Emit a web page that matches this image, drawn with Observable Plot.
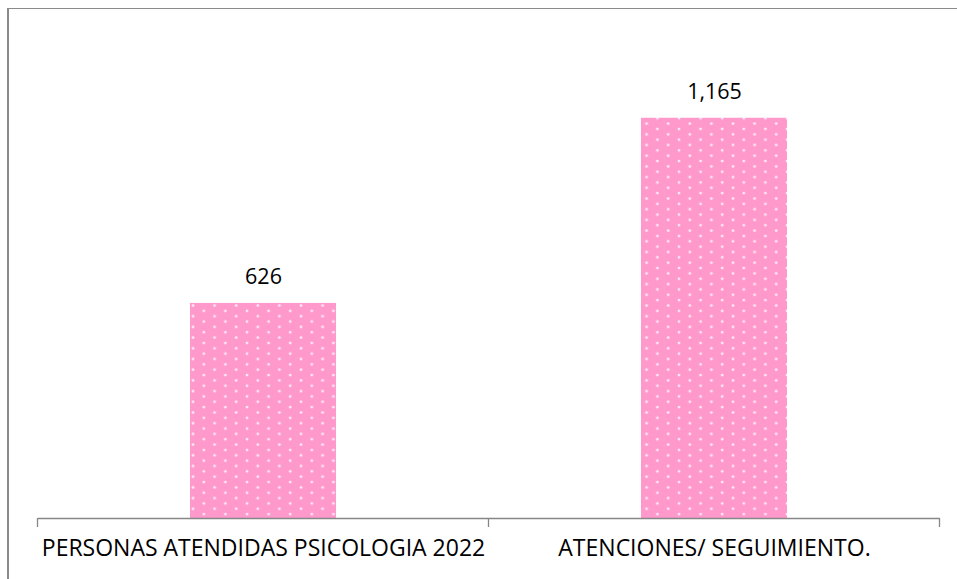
<!DOCTYPE html>
<html>
<head>
<meta charset="utf-8">
<script src="https://cdn.jsdelivr.net/npm/d3@7"></script>
<script src="https://cdn.jsdelivr.net/npm/@observablehq/plot@0.6"></script>
<style>
  html, body { margin: 0; padding: 0; background: #fff; }
  #wrap { position: relative; width: 957px; height: 579px; overflow: hidden; }
  #frame { position: absolute; left: 7px; top: 8px; width: 1000px; height: 1000px;
           border-left: 2px solid #8a8a8a; border-top: 1.5px solid #8a8a8a; box-sizing: border-box; pointer-events: none; }
</style>
</head>
<body>
<div id="wrap"><div id="frame"></div></div>
<script>
const categories = ["PERSONAS ATENDIDAS PSICOLOGIA 2022", "ATENCIONES/ SEGUIMIENTO."];
const values = [626, 1165];
const yDomain = [0, 1400];

const data = categories.map((c, i) => ({category: c, value: values[i]}));
const font = "'Open Sans', 'Noto Sans', sans-serif";

function patternDefs() {
  const ns = "http://www.w3.org/2000/svg";
  const defs = document.createElementNS(ns, "defs");
  defs.innerHTML = `
    <pattern id="dots" patternUnits="userSpaceOnUse" x="190" y="303" width="21.6" height="10.7">
      <rect width="21.6" height="10.7" fill="#ff99cc"/>
      <circle cx="3" cy="2.5" r="1.4" fill="#fff" fill-opacity="0.8"/>
      <circle cx="13.8" cy="7.85" r="1.4" fill="#fff" fill-opacity="0.8"/>
    </pattern>`;
  return defs;
}

function boundaryTicks(index, scales, values, dimensions) {
  const ns = "http://www.w3.org/2000/svg";
  const g = document.createElementNS(ns, "g");
  const x = scales.x;
  const step = x.step();
  const bw = x.bandwidth();
  const y0 = dimensions.height - dimensions.marginBottom;
  const xs = categories.map(c => x(c) - (step - bw) / 2);
  xs.push(x(categories[categories.length - 1]) + bw + (step - bw) / 2);
  for (const px of xs) {
    const l = document.createElementNS(ns, "line");
    l.setAttribute("x1", px); l.setAttribute("x2", px);
    l.setAttribute("y1", y0); l.setAttribute("y2", y0 + 9);
    l.setAttribute("stroke", "#868686"); l.setAttribute("stroke-width", "1.3");
    g.appendChild(l);
  }
  return g;
}

const chart = Plot.plot({
  width: 957,
  height: 579,
  marginLeft: 38,
  marginRight: 17,
  marginTop: 37,
  marginBottom: 61,
  style: {fontFamily: font, background: "transparent"},
  x: {domain: categories, paddingInner: 0.676, paddingOuter: 0.338, axis: null},
  y: {domain: yDomain, axis: null},
  marks: [
    patternDefs,
    Plot.barY(data, {x: "category", y: "value", fill: "url(#dots)"}),
    Plot.ruleY([0], {stroke: "#868686", strokeWidth: 1.3}),
    boundaryTicks,
    Plot.text(data, {x: "category", y: "value", text: d => d3.format(",")(d.value),
      dy: -26, fontSize: 21.5, fill: "#000", fontFamily: font}),
    Plot.text(data, {x: "category", frameAnchor: "bottom", text: "category",
      dy: 37, fontSize: 23, fill: "#000", fontFamily: font})
  ]
});
chart.style.position = "absolute";
chart.style.left = "0";
chart.style.top = "0";
document.getElementById("wrap").appendChild(chart);
</script>
</body>
</html>
